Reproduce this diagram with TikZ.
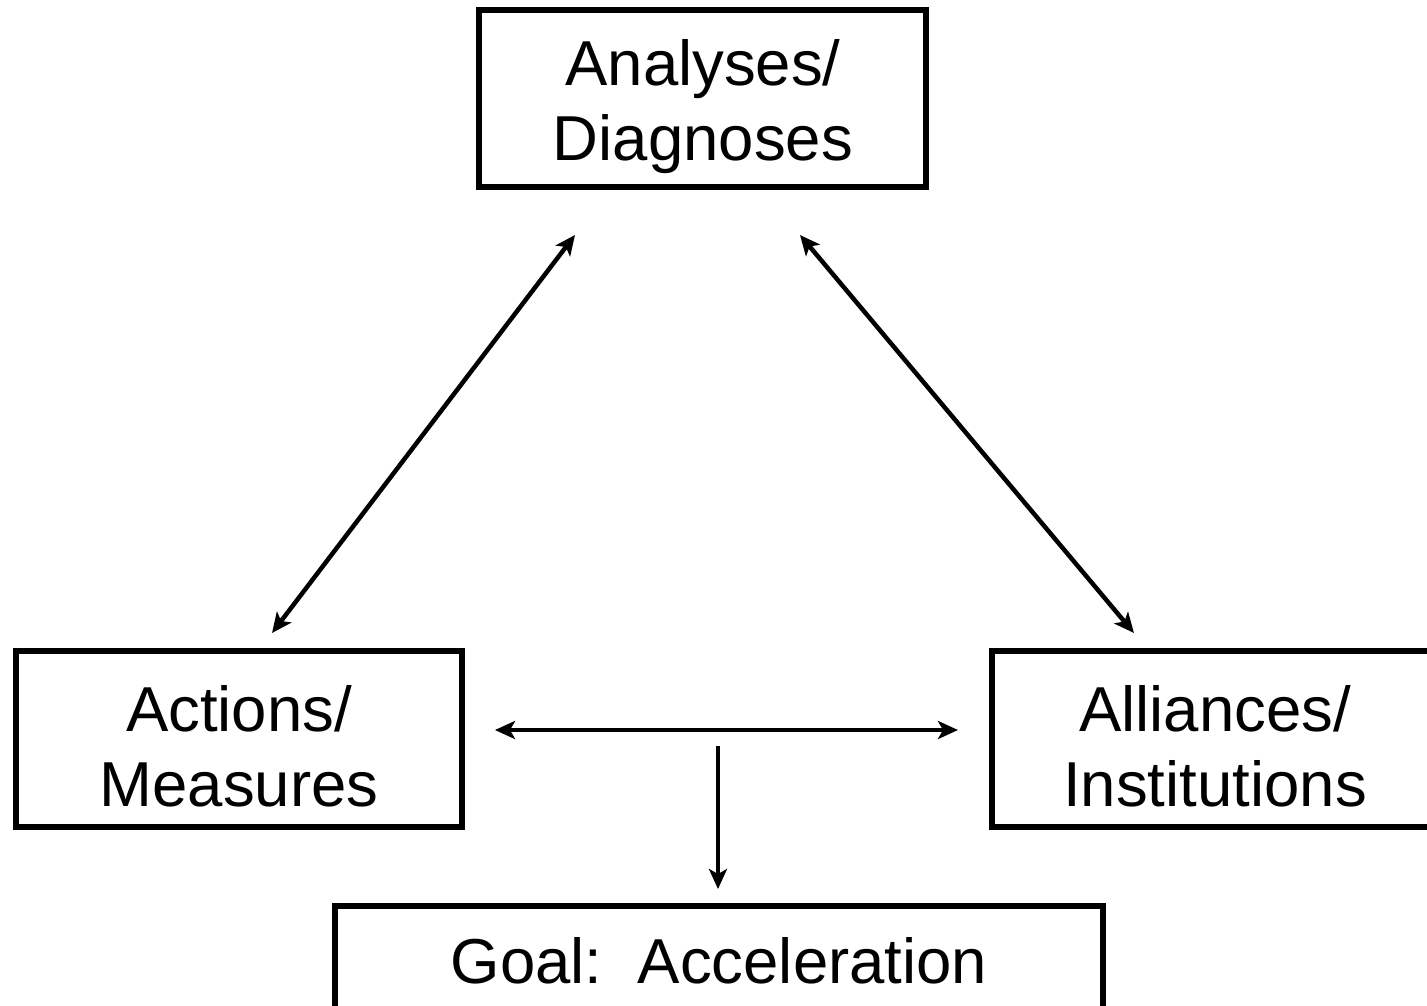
\documentclass[tikz,border=0pt]{standalone}
\usepackage{fontspec}
\setmainfont{Liberation Sans}
\usetikzlibrary{arrows.meta}
\begin{document}
\begin{tikzpicture}[x=1pt,y=-1pt,
  boxline/.style={draw=black,line width=6pt},
  lbl/.style={font=\fontsize{63.5}{75}\selectfont,align=center,inner sep=0pt},
  tip/.style={Stealth[length=20pt,width=18pt,inset=5pt]},
  conn/.style={line width=4.5pt,{Stealth[length=20pt,width=18pt,inset=5pt]}-{Stealth[length=20pt,width=18pt,inset=5pt]}},
  oneway/.style={line width=4.5pt,-{Stealth[length=20pt,width=18pt,inset=5pt]}}]
\useasboundingbox[fill=white] (0,0) rectangle (1427,1005);
% boxes
\draw[boxline] (479,10) rectangle (926,187);
\draw[boxline] (16,651) rectangle (462,827);
\draw[boxline] (992,651) rectangle (1440,827);
\draw[boxline] (335,906) rectangle (1103,1020);
% labels
\node[lbl] (ana) at (703,106.5) {Analyses/\\Diagnoses};
\node[lbl] (act) at (239,746.5) {Actions/\\Measures};
\node[lbl] (all) at (1215,746.5) {Alliances/\\Institutions};
\node[lbl,anchor=base] (goal) at (719,983) {Goal:\ \ Acceleration};
% connector ends
\coordinate (a1) at (575,235);
\coordinate (a2) at (272,633);
\coordinate (b1) at (800,235);
\coordinate (b2) at (1134,633);
\coordinate (h1) at (495,730);
\coordinate (h2) at (958,730);
\coordinate (v1) at (718,746);
\coordinate (v2) at (718,889);
\draw[conn] (a2) -- (a1);
\draw[conn] (b1) -- (b2);
\draw[conn] (h1) -- (h2);
\draw[oneway] (v1) -- (v2);
\end{tikzpicture}
\end{document}
